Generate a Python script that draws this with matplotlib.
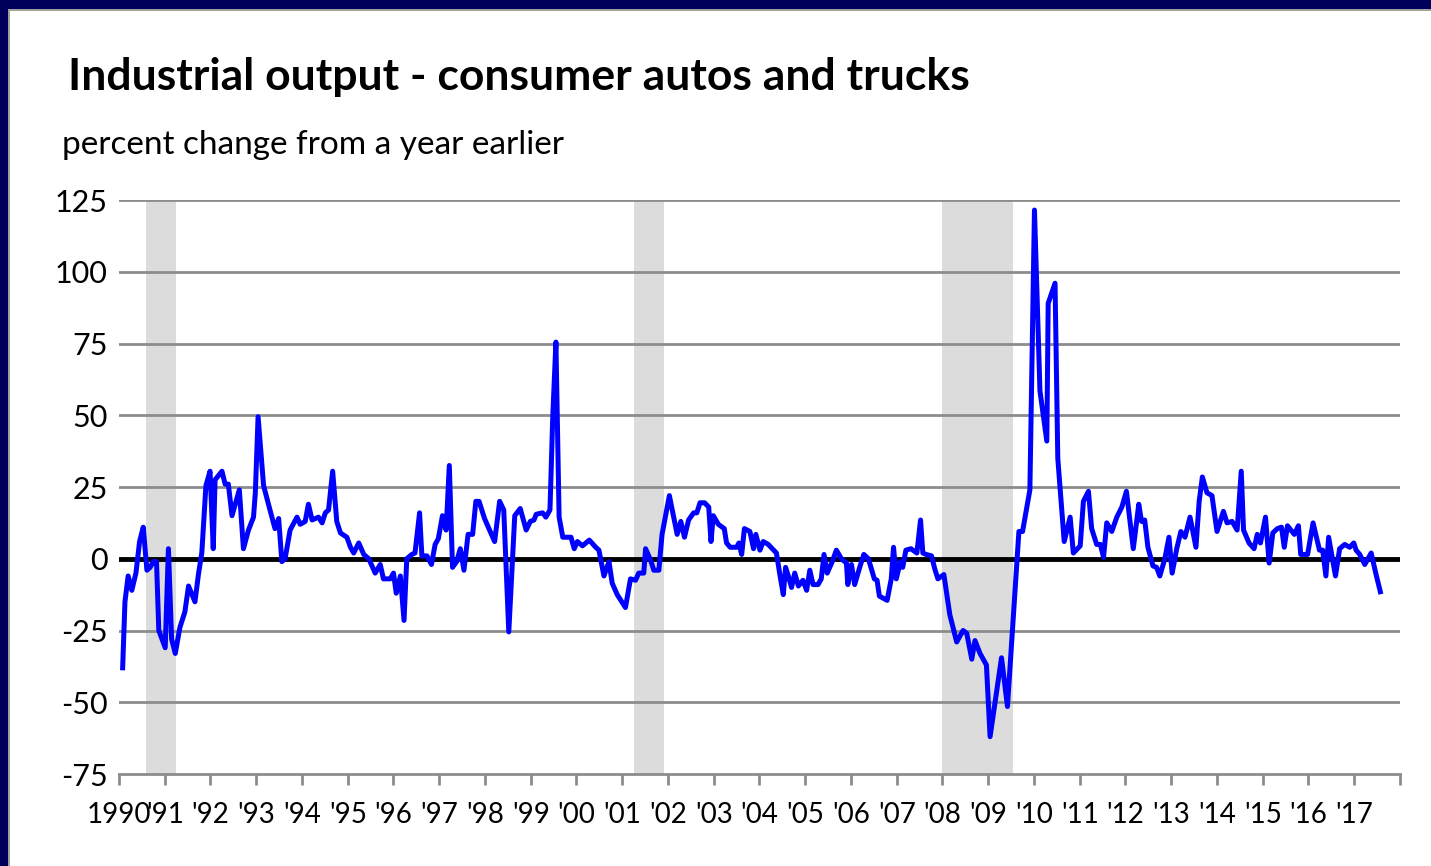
import matplotlib
matplotlib.use("Agg")
import matplotlib.pyplot as plt
from matplotlib.patches import Rectangle

# fechas en años decimales (mensual aprox.) y variacion % interanual
fechas = [
    1990.08, 1990.13, 1990.20, 1990.28, 1990.37, 1990.45, 1990.53, 1990.61, 1990.68, 1990.75,
    1990.82, 1990.87, 1991.01, 1991.08, 1991.15, 1991.23, 1991.33, 1991.44, 1991.52, 1991.66,
    1991.74, 1991.81, 1991.90, 1991.99, 1992.06, 1992.10, 1992.25, 1992.32, 1992.39, 1992.47,
    1992.63, 1992.72, 1992.83, 1992.94, 1992.98, 1993.04, 1993.16, 1993.30, 1993.41, 1993.49,
    1993.56, 1993.63, 1993.74, 1993.89, 1993.96, 1994.07, 1994.14, 1994.22, 1994.36, 1994.44,
    1994.51, 1994.58, 1994.67, 1994.76, 1994.84, 1994.98, 1995.06, 1995.13, 1995.24, 1995.35,
    1995.46, 1995.60, 1995.71, 1995.78, 1995.93, 1996.00, 1996.06, 1996.15, 1996.23, 1996.29,
    1996.40, 1996.47, 1996.57, 1996.62, 1996.73, 1996.83, 1996.91, 1996.98, 1997.07, 1997.15,
    1997.22, 1997.29, 1997.38, 1997.46, 1997.54, 1997.63, 1997.73, 1997.80, 1997.87, 1997.99,
    1998.10, 1998.21, 1998.32, 1998.41, 1998.52, 1998.65, 1998.77, 1998.90, 1998.99, 1999.07,
    1999.12, 1999.26, 1999.33, 1999.42, 1999.48, 1999.55, 1999.62, 1999.70, 1999.88, 1999.95,
    2000.02, 2000.13, 2000.28, 2000.42, 2000.49, 2000.60, 2000.71, 2000.78, 2000.89, 2001.07,
    2001.18, 2001.29, 2001.36, 2001.47, 2001.51, 2001.62, 2001.69, 2001.80, 2001.87, 2002.03,
    2002.20, 2002.28, 2002.36, 2002.45, 2002.56, 2002.63, 2002.70, 2002.80, 2002.89, 2002.94,
    2002.99, 2003.10, 2003.23, 2003.28, 2003.36, 2003.50, 2003.55, 2003.61, 2003.67, 2003.79,
    2003.87, 2003.92, 2004.01, 2004.08, 2004.19, 2004.37, 2004.45, 2004.52, 2004.57, 2004.63,
    2004.70, 2004.77, 2004.85, 2004.95, 2005.03, 2005.10, 2005.17, 2005.28, 2005.35, 2005.41,
    2005.48, 2005.59, 2005.68, 2005.79, 2005.90, 2005.93, 2006.01, 2006.08, 2006.19, 2006.28,
    2006.38, 2006.51, 2006.57, 2006.62, 2006.79, 2006.88, 2006.93, 2006.99, 2007.08, 2007.13,
    2007.20, 2007.31, 2007.44, 2007.52, 2007.57, 2007.64, 2007.76, 2007.83, 2007.90, 2008.03,
    2008.16, 2008.31, 2008.45, 2008.53, 2008.64, 2008.71, 2008.82, 2008.96, 2009.04, 2009.15,
    2009.29, 2009.42, 2009.55, 2009.67, 2009.75, 2009.91, 2010.01, 2010.13, 2010.28, 2010.31,
    2010.46, 2010.52, 2010.66, 2010.79, 2010.86, 2011.01, 2011.08, 2011.19, 2011.26, 2011.37,
    2011.45, 2011.52, 2011.59, 2011.70, 2011.81, 2011.92, 2012.02, 2012.17, 2012.29, 2012.35,
    2012.42, 2012.49, 2012.60, 2012.68, 2012.75, 2012.86, 2012.95, 2013.02, 2013.12, 2013.21,
    2013.30, 2013.41, 2013.54, 2013.61, 2013.68, 2013.78, 2013.89, 2014.00, 2014.14, 2014.22,
    2014.33, 2014.44, 2014.53, 2014.58, 2014.70, 2014.81, 2014.88, 2014.95, 2015.06, 2015.14,
    2015.22, 2015.32, 2015.41, 2015.47, 2015.54, 2015.69, 2015.78, 2015.83, 2015.98, 2016.10,
    2016.24, 2016.31, 2016.38, 2016.44, 2016.59, 2016.68, 2016.79, 2016.90, 2016.99, 2017.04,
    2017.12, 2017.23, 2017.37, 2017.47, 2017.57,
]
variacion = [
    -38, -15, -6, -11, -5, 6, 11, -4, -3, -1,
    -1, -25, -31, 3.5, -28, -33, -24, -18.5, -9.5, -15,
    -5, 2, 25.5, 30.5, 3.5, 27.5, 30.5, 26, 26, 15,
    24, 3.5, 10, 14.5, 23, 49.5, 25.5, 17, 10.5, 14,
    -1, 0, 10, 14.5, 12, 13, 19, 13.5, 14.5, 12.5,
    16, 17, 30.5, 13, 9, 7.5, 4, 2, 5.5, 1.5,
    0, -5, -2, -7, -7, -5, -12, -6, -21.5, 0,
    1.5, 2, 16, 1, 1, -2, 5, 7, 15, 10,
    32.5, -3, -1, 3.5, -4, 8.5, 8.5, 20, 20, 14,
    10, 6, 20, 17, -25.5, 15, 17.5, 10, 13, 13.5,
    15.5, 16, 14.5, 17, 49, 75.5, 14.5, 7.5, 7.5, 3.5,
    6, 4.5, 6.5, 4, 3, -6, -1, -8.5, -12.5, -17,
    -7, -7.5, -5, -5, 3.5, -0.5, -4, -4, 8.5, 22,
    8.5, 13, 7.5, 13.5, 16, 16, 19.5, 19.5, 18, 6,
    15, 12, 10.5, 5.5, 4, 4, 5.5, 1.5, 10.5, 9.5,
    3.5, 8.5, 3, 6, 5, 2, -6, -12.5, -3, -6,
    -10, -5, -9.5, -7.5, -11, -4, -9, -9, -7, 1.5,
    -5, -1, 3, 0, -1.5, -9, -2, -9, -3, 1.5,
    0, -7, -7.5, -13, -14.5, -7, 4, -7, -1, -3,
    3, 3.5, 2, 13.5, 2, 1.5, 1, -3.5, -7, -5.5,
    -19.5, -29, -25, -26, -35, -28.5, -33, -37, -62, -50,
    -34.5, -51.5, -20, 9.5, 9.5, 24, 121.5, 58.5, 41, 89,
    96, 35, 6, 14.5, 2, 4.5, 20, 23.5, 10.5, 5,
    5, 0.5, 12.5, 9.5, 14.5, 18, 23.5, 3.5, 19, 13,
    13.5, 4, -2.5, -3, -6, 0, 7.5, -5, 3.5, 9.5,
    7.5, 14.5, 4, 20, 28.5, 23, 22, 9.5, 16.5, 12.5,
    13, 10, 30.5, 10, 5.5, 3.5, 8.5, 5.5, 14.5, -1.5,
    9, 10.5, 11, 4, 11.5, 8.5, 11.5, 1.5, 1.5, 12.5,
    3, 3, -6, 7.5, -6, 3.5, 5, 4, 5.5, 3,
    1.5, -2, 2, -5, -11.5,
]

# recesiones (inicio, fin)
recesiones = [(1990.58, 1991.25), (2001.25, 2001.92), (2008.0, 2009.55)]

anios = list(range(1990, 2018))
etiquetas = ["1990"] + ["'%02d" % (a % 100) for a in anios[1:]]
yticks = [-75, -50, -25, 0, 25, 50, 75, 100, 125]

plt.rcParams['font.family'] = ['Lato', 'DejaVu Sans']

fig = plt.figure(figsize=(14.31, 8.66), dpi=100)
fig.patch.set_facecolor('white')
# marco azul oscuro arriba y a la izquierda
fig.patches.append(Rectangle((0, 1 - 9 / 866), 1, 9 / 866, transform=fig.transFigure,
                             facecolor='#00005a', edgecolor='none', zorder=0))
fig.patches.append(Rectangle((0, 1 - 11 / 866), 1, 2 / 866, transform=fig.transFigure,
                             facecolor='#a0a0a0', edgecolor='none', zorder=0))
fig.patches.append(Rectangle((0, 0), 8 / 1431, 1, transform=fig.transFigure,
                             facecolor='#00005a', edgecolor='none', zorder=0))
fig.patches.append(Rectangle((8 / 1431, 0), 2 / 1431, 1 - 9 / 866, transform=fig.transFigure,
                             facecolor='#a0a0a0', edgecolor='none', zorder=0))

ax = fig.add_axes([119 / 1431, 1 - 774 / 866, (1400 - 119) / 1431, (774 - 200) / 866])

for ini, fin in recesiones:
    ax.axvspan(ini, fin, color='#dcdcdc', lw=0, zorder=0)

for v in yticks[1:]:
    if v != 0:
        ax.axhline(v, color='#8c8c8c', lw=2, zorder=1)
ax.axhline(0, color='black', lw=3.5, zorder=2)

ax.plot(fechas, variacion, color='#0000ff', lw=3.6, zorder=3, solid_joinstyle='round')

ax.set_xlim(1990, 2018)
ax.set_ylim(-75, 125)
ax.set_yticks(yticks)
ax.set_yticklabels([str(v) for v in yticks], fontsize=22)
ax.set_xticks(anios + [2018])
ax.set_xticklabels(etiquetas + [""], fontsize=20)
ax.tick_params(axis='y', length=0, pad=8)
ax.tick_params(axis='x', length=8, width=2, color='#8c8c8c', pad=12)
for s in ['left', 'right', 'top']:
    ax.spines[s].set_visible(False)
ax.spines['bottom'].set_color('#8c8c8c')
ax.spines['bottom'].set_linewidth(2)

fig.text(68 / 1431, 1 - 77 / 866, "Industrial output - consumer autos and trucks",
         fontsize=32, fontweight='bold', va='center', ha='left')
fig.text(62 / 1431, 1 - 145 / 866, "percent change from a year earlier",
         fontsize=24, va='center', ha='left')

fig.savefig('out.png', dpi=100)
